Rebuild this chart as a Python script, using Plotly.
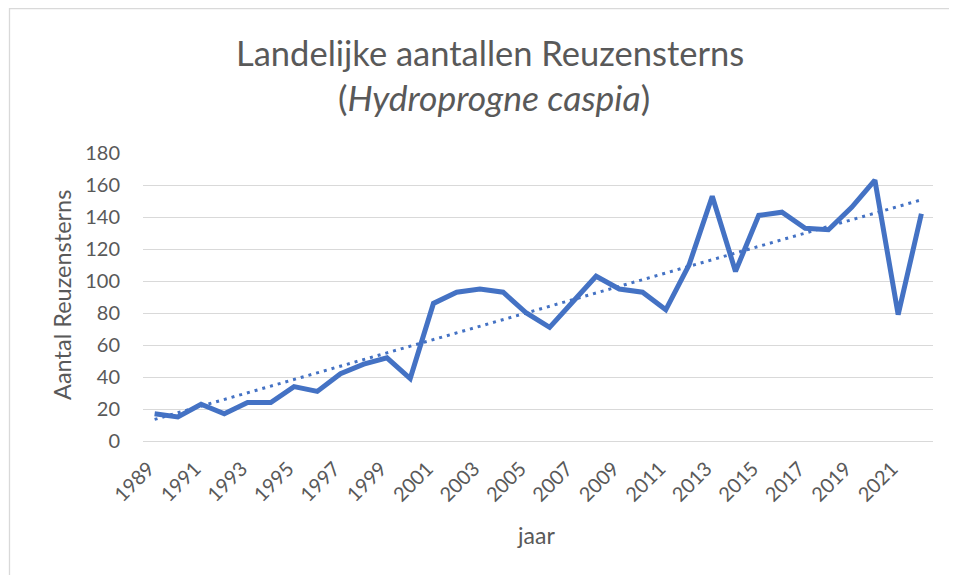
import numpy as np
import plotly.graph_objects as go

years = list(range(1989, 2023))
counts = [17, 15, 23, 17, 24, 24, 34, 31, 42, 48, 52, 39, 86, 93, 95, 93, 80, 71,
          87, 103, 95, 93, 82, 110, 153, 106, 141, 143, 133, 132, 146, 163, 79, 142]
tick_years = list(range(1989, 2022, 2))
y_ticks = list(range(0, 181, 20))

title_line1 = "Landelijke aantallen Reuzensterns"
title_line2 = "(<i>Hydroprogne caspia</i>)"
y_title = "Aantal Reuzensterns"
x_title = "jaar"

# linear trendline fitted on the data
coef = np.polyfit(np.arange(len(years)), counts, 1)
trend = np.polyval(coef, np.arange(len(years)))

# page body has an 8px margin: the figure starts at screen (8, 8)
OFF = 8
W, H = 957 - OFF, 575 - OFF
L, R, T, B = 143 - OFF, 24, 153 - OFF, 134
PW, PH = W - L - R, H - T - B

def px(x):  # screen x -> paper
    return (x - OFF - L) / PW

def py(y):  # screen y -> paper
    return (H - B - (y - OFF)) / PH

BLUE = "#4472C4"
GREY = "#595959"
FONT = "Lato"

fig = go.Figure()
fig.add_trace(go.Scatter(x=years, y=trend, mode="lines",
                         line=dict(color=BLUE, width=3, dash="3px,5px"),
                         showlegend=False, hoverinfo="skip"))
fig.add_trace(go.Scatter(x=years, y=counts, mode="lines",
                         line=dict(color=BLUE, width=5),
                         showlegend=False))

fig.update_layout(
    width=W, height=H,
    margin=dict(l=L, r=R, t=T, b=B, pad=0),
    paper_bgcolor="white", plot_bgcolor="white",
    font=dict(family=FONT, color=GREY),
    xaxis=dict(range=[1988.5, 2022.5], tickmode="array", tickvals=tick_years,
               ticktext=[str(y) for y in tick_years], tickangle=-45,
               tickfont=dict(size=20, color=GREY), showgrid=False,
               showline=True, linecolor="#d9d9d9", linewidth=1.3,
               zeroline=False, automargin=False, ticklabelstandoff=7,
               ticklabelshift=-6, fixedrange=True),
    yaxis=dict(range=[0, 180], tickmode="array", tickvals=y_ticks,
               tickfont=dict(size=20, color=GREY), showgrid=True,
               gridcolor="#d9d9d9", gridwidth=1.3, zeroline=False,
               automargin=False, ticklabelstandoff=22, fixedrange=True),
    annotations=[
        dict(text=title_line1, x=px(490), y=py(52), xref="paper", yref="paper",
             showarrow=False, font=dict(size=34.5, color=GREY, family=FONT),
             xanchor="center", yanchor="middle"),
        dict(text=title_line2, x=px(494), y=py(98), xref="paper", yref="paper",
             showarrow=False, font=dict(size=35.5, color=GREY, family=FONT),
             xanchor="center", yanchor="middle"),
        dict(text=y_title, x=px(62), y=py(295), xref="paper", yref="paper",
             showarrow=False, textangle=-90, font=dict(size=23.5, color=GREY, family=FONT),
             xanchor="center", yanchor="middle"),
        dict(text=x_title, x=px(536), y=py(535), xref="paper", yref="paper",
             showarrow=False, font=dict(size=23, color=GREY, family=FONT),
             xanchor="center", yanchor="middle"),
    ],
    shapes=[
        dict(type="path", xref="paper", yref="paper",
             path=f"M {px(9.5)} {py(575)} L {px(9.5)} {py(8.5)} L {px(957)} {py(8.5)}",
             line=dict(color="#d9d9d9", width=1.3)),
    ],
)

fig.write_html("out.html")
